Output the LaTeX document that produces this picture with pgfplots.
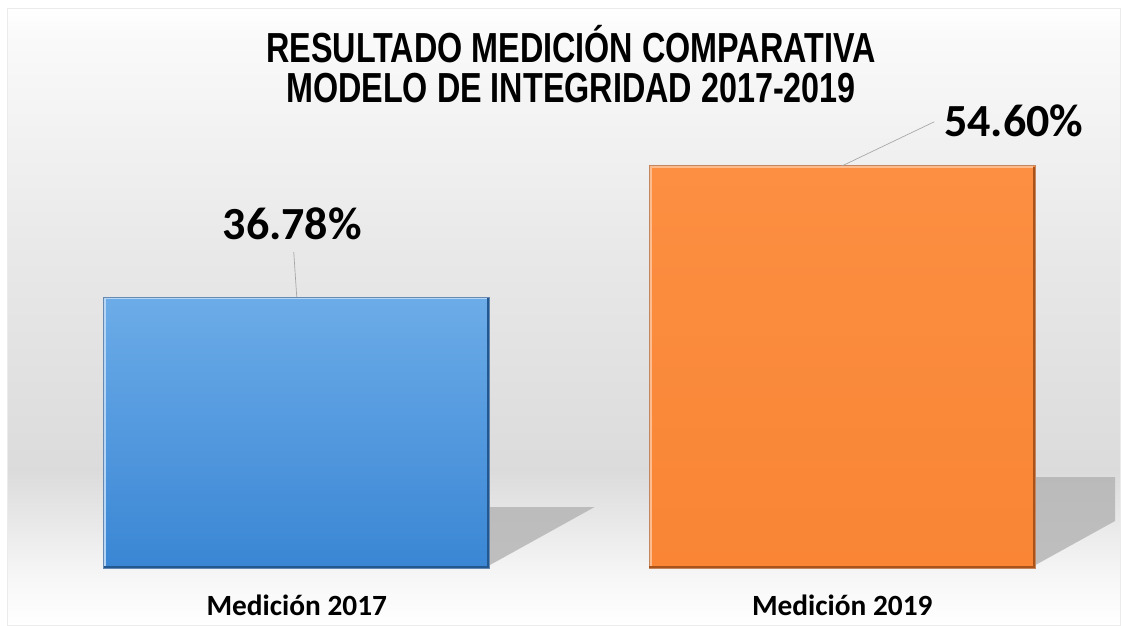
\documentclass[border=0pt]{standalone}
\usepackage{pgfplots}
\pgfplotsset{compat=1.18}
\usepackage{fontspec}
\setmainfont{Carlito}
\newfontfamily\titlefont[FakeStretch=0.77]{Liberation Sans}
\definecolor{blueT}{HTML}{6CACE8}
\definecolor{blueB}{HTML}{3A86D4}
\definecolor{blueE}{HTML}{23578F}
\definecolor{orT}{HTML}{FC8F42}
\definecolor{orB}{HTML}{F98535}
\definecolor{orE}{HTML}{A9521A}
\pgfdeclareverticalshading{bgshade}{100bp}{color(0bp)=(white); color(25bp)=(white); color(28.6bp)=(black!3); color(37.6bp)=(black!14); color(55bp)=(black!9); color(73bp)=(black!2); color(75bp)=(white); color(100bp)=(white)}
\begin{document}
\begin{tikzpicture}
\useasboundingbox (0,0) rectangle (843pt,-468.75pt);
\fill[white] (0,0) rectangle (843pt,-468.75pt);
\shade[shading=bgshade, draw=black!8] (5.25pt,-6pt) rectangle (840pt,-469pt);
\node[anchor=base, font=\titlefont\bfseries\fontsize{31.5}{36}\selectfont] at (428.25pt,-46.5pt) {RESULTADO MEDICIÓN COMPARATIVA};
\node[anchor=base, font=\titlefont\bfseries\fontsize{31.5}{36}\selectfont] at (428.25pt,-76.5pt) {MODELO DE INTEGRIDAD 2017-2019};
\begin{axis}[
  at={(18pt,-426pt)}, anchor=south west,
  scale only axis, width=818.25pt, height=331.5pt,
  xmin=-0.5, xmax=1.5, ymin=0, ymax=60,
  clip=false,
  axis line style={draw=none}, tick style={draw=none},
  ytick=\empty, xtick={0,1},
  xticklabels={Medición 2017, Medición 2019},
  major tick length=0pt,
  xticklabel style={font=\fontsize{22}{26}\selectfont\bfseries, anchor=base, yshift=-35.25pt},
  bar width=0.7076,
  point meta=y,
  /pgf/number format/assume math mode=true,
]
% shadows (decorative)
\fill[black!30, opacity=0.8] (axis cs:0.354,0.4) -- (axis cs:0.354,8.28) -- (axis cs:0.546,8.28) -- cycle;
\fill[black!30, opacity=0.8] (axis cs:1.354,0.4) -- (axis cs:1.354,12.35) -- (axis cs:1.5,12.35) -- (axis cs:1.5,6.38) -- cycle;

\addplot[ybar, bar shift=0pt, draw=blueE!70, line width=0.6pt, top color=blueT, bottom color=blueB,
  nodes near coords={\pgfmathprintnumber[fixed,fixed zerofill,precision=2]{\pgfplotspointmeta}\%},
  nodes near coords style={font=\fontsize{34.5}{40}\selectfont\bfseries, anchor=base, xshift=-3.4pt, yshift=43.5pt, text=black}]
  coordinates {(0,36.78)};
\addplot[ybar, bar shift=0pt, draw=orE!70, line width=0.6pt, top color=orT, bottom color=orB,
  nodes near coords={\pgfmathprintnumber[fixed,fixed zerofill,precision=2]{\pgfplotspointmeta}\%},
  nodes near coords style={font=\fontsize{34.5}{40}\selectfont\bfseries, anchor=base, xshift=128.6pt, yshift=21.75pt, text=black}]
  coordinates {(1,54.60)};

% bevel edges (decorative)
\draw[blueE, line width=1.6pt] (axis cs:0.351,36.6) -- (axis cs:0.351,0.15) -- (axis cs:-0.354,0.15);
\draw[blueT!50!white, line width=1.2pt] (axis cs:-0.351,0.3) -- (axis cs:-0.351,36.6) -- (axis cs:0.349,36.6);
\draw[orE, line width=1.6pt] (axis cs:1.351,54.4) -- (axis cs:1.351,0.15) -- (axis cs:0.646,0.15);
\draw[orT!60!white, line width=1.2pt] (axis cs:0.649,0.3) -- (axis cs:0.649,54.42) -- (axis cs:1.349,54.42);

% leader lines
\draw[black!35, line width=0.5pt] (axis cs:0,36.78) -- ++(-2.25pt,33.75pt);
\draw[black!35, line width=0.5pt] (axis cs:1,54.60) -- ++(69pt,33pt);
\end{axis}
\end{tikzpicture}
\end{document}
